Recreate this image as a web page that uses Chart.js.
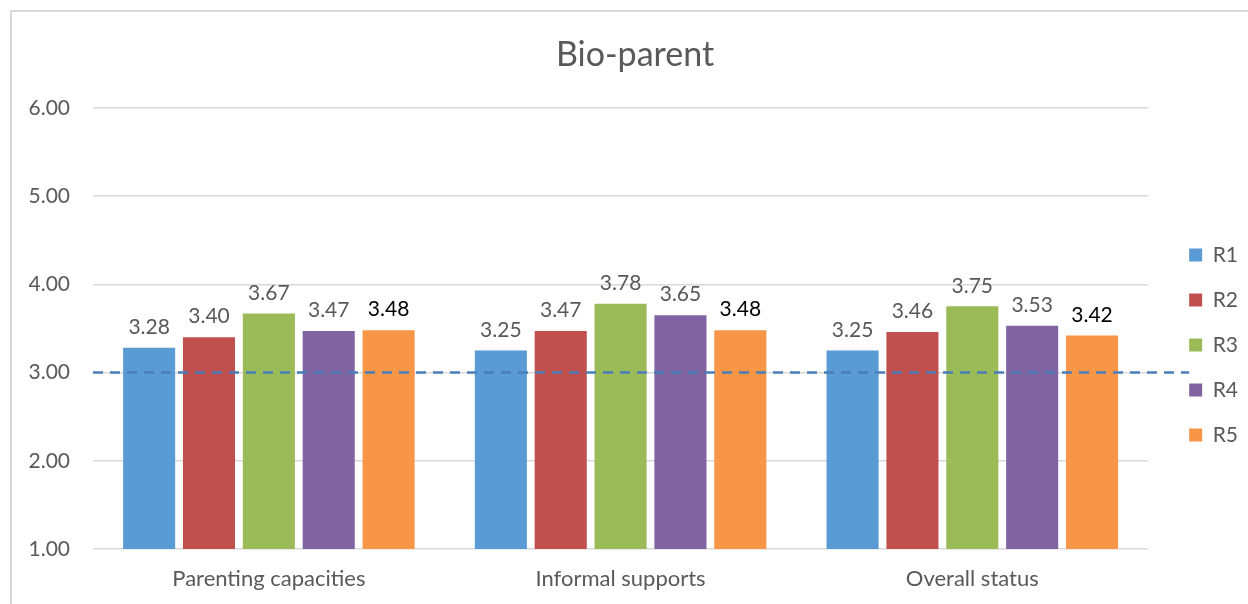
<!DOCTYPE html>
<html>
<head>
<meta charset="utf-8">
<script src="https://cdn.jsdelivr.net/npm/chart.js@4.4.1/dist/chart.umd.min.js"></script>
<style>
  html, body { margin: 0; padding: 0; background: #ffffff; }
  #wrap { position: relative; width: 1248px; height: 604px; }
</style>
</head>
<body>
<div id="wrap"><canvas id="chart" width="1248" height="604"></canvas></div>
<script>
// Mean ratings by review round
const categories = ["Parenting capacities", "Informal supports", "Overall status"];
const seriesNames = ["R1", "R2", "R3", "R4", "R5"];
const r1 = [3.28, 3.25, 3.25];
const r2 = [3.40, 3.47, 3.46];
const r3 = [3.67, 3.78, 3.75];
const r4 = [3.47, 3.65, 3.53];
const r5 = [3.48, 3.48, 3.42];
const seriesColors = ["#5B9BD5", "#C0504D", "#9BBB59", "#8064A2", "#F79646"];
const labelColors = ["#595959", "#595959", "#595959", "#595959", "#000000"];
const yTicks = [1, 2, 3, 4, 5, 6];
const referenceLevel = 3.0;
const chartTitle = "Bio-parent";

const FONT = "Lato, 'Noto Sans', sans-serif";
const TEXT_GREY = "#595959";
const GRID_GREY = "#d9d9d9";

// outer frame of the figure
const framePlugin = {
  id: "frame",
  beforeDraw(chart) {
    const ctx = chart.ctx;
    ctx.save();
    ctx.strokeStyle = GRID_GREY;
    ctx.lineWidth = 2;
    ctx.beginPath();
    ctx.moveTo(11, chart.height);
    ctx.lineTo(11, 11);
    ctx.lineTo(chart.width, 11);
    ctx.stroke();
    ctx.restore();
  }
};

// dashed reference line and value labels above the bars
const overlayPlugin = {
  id: "overlay",
  afterDatasetsDraw(chart) {
    const ctx = chart.ctx;
    const area = chart.chartArea;
    const y = chart.scales.y.getPixelForValue(referenceLevel);
    ctx.save();
    ctx.strokeStyle = "#4A7EBB";
    ctx.lineWidth = 2.5;
    ctx.setLineDash([10, 7]);
    ctx.beginPath();
    ctx.moveTo(area.left, y);
    ctx.lineTo(area.right + 41, y);
    ctx.stroke();
    ctx.setLineDash([]);

    ctx.font = "21px " + FONT;
    ctx.textAlign = "center";
    ctx.textBaseline = "bottom";
    chart.data.datasets.forEach((ds, i) => {
      const meta = chart.getDatasetMeta(i);
      ctx.fillStyle = labelColors[i];
      meta.data.forEach((bar, j) => {
        ctx.fillText(ds.data[j].toFixed(2), bar.x, bar.y - 10);
      });
    });
    ctx.restore();
  }
};

const values = [r1, r2, r3, r4, r5];

new Chart(document.getElementById("chart"), {
  type: "bar",
  data: {
    labels: categories,
    datasets: seriesNames.map((name, i) => ({
      label: name,
      data: values[i],
      backgroundColor: seriesColors[i],
      borderWidth: 0,
      categoryPercentage: 0.851,
      barPercentage: 0.87
    }))
  },
  plugins: [framePlugin, overlayPlugin],
  options: {
    responsive: false,
    animation: false,
    devicePixelRatio: 1,
    layout: { padding: { left: 22, right: 0, top: 0, bottom: 0 } },
    plugins: {
      title: {
        display: true,
        text: chartTitle,
        color: TEXT_GREY,
        font: { family: FONT, size: 34, weight: "normal" },
        padding: { top: 35, bottom: 32 }
      },
      legend: {
        position: "right",
        fullSize: false,
        title: { display: true, text: "", font: { size: 10 }, padding: { top: 0, bottom: 21 } },
        labels: {
          boxWidth: 13,
          boxHeight: 13,
          padding: 24,
          color: TEXT_GREY,
          font: { family: FONT, size: 21 }
        }
      },
      tooltip: { enabled: false }
    },
    scales: {
      x: {
        grid: { display: false, drawTicks: false },
        border: { display: false },
        ticks: { color: TEXT_GREY, font: { family: FONT, size: 22 }, padding: 17 },
        afterFit(scale) { scale.height = 55; }
      },
      y: {
        min: 1,
        max: 6,
        afterBuildTicks(scale) { scale.ticks = yTicks.map(v => ({ value: v })); },
        grid: { color: GRID_GREY, lineWidth: 1.5, drawTicks: false },
        border: { display: false },
        ticks: {
          color: TEXT_GREY,
          font: { family: FONT, size: 21 },
          padding: 23,
          callback: v => Number(v).toFixed(2)
        },
        afterFit(scale) { scale.width = 71; }
      },
      gap: {
        position: "right",
        display: true,
        grid: { display: false, drawTicks: false },
        border: { display: false },
        ticks: { display: false },
        afterFit(scale) { scale.width = 17; }
      }
    }
  }
});
</script>
</body>
</html>
